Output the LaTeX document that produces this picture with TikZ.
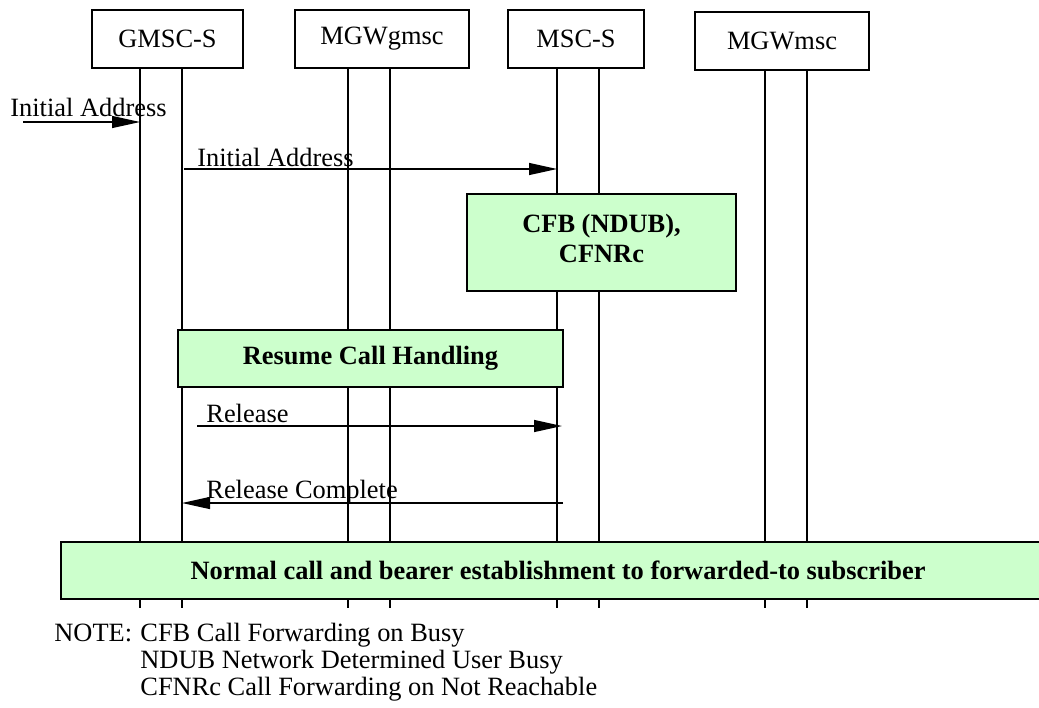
\documentclass[tikz,border=0pt]{standalone}
\usepackage{fontspec}
\setmainfont{Liberation Serif}
\usetikzlibrary{arrows.meta,positioning}
\definecolor{handlinggreen}{RGB}{204,255,204}
\newcommand{\diafont}{\fontsize{13.2}{15}\selectfont}

\tikzset{
  entity/.style={draw,line width=0.7pt,inner sep=0pt,font=\diafont},
  greenbox/.style={draw,fill=handlinggreen,line width=0.7pt,inner sep=0pt,font=\diafont\bfseries},
  lifeline/.style={line width=0.65pt},
  msg/.style={line width=0.65pt,-{Triangle[length=14pt,width=6pt]}},
  msgtext/.style={anchor=base west,inner sep=0pt,font=\diafont},
}

\begin{document}
\begin{tikzpicture}[x=0.5pt,y=-0.5pt]
    \useasboundingbox (0,0) rectangle (1039,707);
    \clip (0,0) rectangle (1039,707);

    % entities
    \node[entity,minimum width=75.5pt,minimum height=29pt] (gmsc) at (167.5,39) {GMSC-S};
    \node[entity,minimum width=87pt,minimum height=29pt] (mgwg) at (382,39) {MGWgmsc};
    \node[entity,minimum width=68pt,minimum height=29pt] (msc) at (576,39) {MSC-S};
    \node[entity,minimum width=87pt,minimum height=29pt] (mgwm) at (782,41) {MGWmsc};

    % lifelines
    \coordinate (gA) at (140,608); \coordinate (gB) at (182,608);
    \coordinate (wA) at (348,608); \coordinate (wB) at (390,608);
    \coordinate (mA) at (557,608); \coordinate (mB) at (599,608);
    \coordinate (vA) at (765,608); \coordinate (vB) at (807,608);
    \draw[lifeline] (gA |- gmsc.south) -- (gA);
    \draw[lifeline] (gB |- gmsc.south) -- (gB);
    \draw[lifeline] (wA |- mgwg.south) -- (wA);
    \draw[lifeline] (wB |- mgwg.south) -- (wB);
    \draw[lifeline] (mA |- msc.south) -- (mA);
    \draw[lifeline] (mB |- msc.south) -- (mB);
    \draw[lifeline] (vA |- mgwm.south) -- (vA);
    \draw[lifeline] (vB |- mgwm.south) -- (vB);

    % messages
    \coordinate (iaIn) at (23,122);
    \draw[msg] (iaIn) -- (iaIn -| gA);
    \node[msgtext] (iaInText) at (10,116) {Initial Address};

    \coordinate (iaOut) at (184,169);
    \draw[msg] (iaOut) -- (iaOut -| mA);
    \node[msgtext] (iaOutText) at (197,166) {Initial Address};

    \node[greenbox,minimum width=134.5pt,minimum height=48.5pt] (cfb) at (601.5,242.5) {};
    \node[font=\diafont\bfseries,align=center,inner sep=0pt] (cfbText) at (601.5,238) {CFB (NDUB),\\CFNRc};

    \node[greenbox,minimum width=192.5pt,minimum height=28.5pt] (resume) at (370.5,358.5) {Resume Call Handling};

    \coordinate (rel) at (197,426);
    \draw[msg] (rel) -- ([xshift=2.5pt]rel -| mA);
    \node[msgtext] (relText) at (206,422) {Release};

    \coordinate (relc) at (563,503);
    \draw[msg] (relc) -- (relc -| gB);
    \node[msgtext] (relcText) at (206,498) {Release Complete};

    \node[greenbox,minimum width=497pt,minimum height=28.5pt] (normal) at (558,570.5) {Normal call and bearer establishment to forwarded-to subscriber};

    % note
    \node[msgtext] (noteHead) at (54,641) {NOTE:};
    \node[msgtext] (noteCfb) at (140,641) {CFB Call Forwarding on Busy};
    \node[msgtext] (noteNdub) at (140,668) {NDUB Network Determined User Busy};
    \node[msgtext] (noteCfnrc) at (140,695) {CFNRc Call Forwarding on Not Reachable};
\end{tikzpicture}
\end{document}
